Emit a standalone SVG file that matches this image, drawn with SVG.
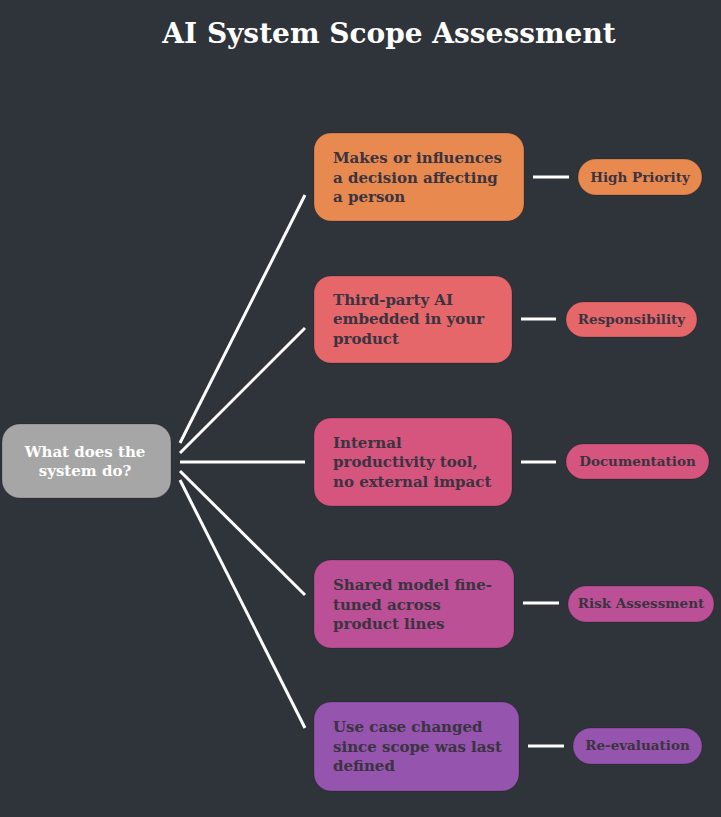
<svg xmlns="http://www.w3.org/2000/svg" width="721" height="817" viewBox="0 0 721 817">
<style>
.bg{fill:#2f333a}
.title{font-family:"DejaVu Serif","Liberation Serif",serif;font-weight:bold;font-size:28px;fill:#ffffff;text-anchor:middle}
.box{stroke:#000;stroke-opacity:0.18;stroke-width:1}
.t{font-family:"DejaVu Serif","Liberation Serif",serif;font-weight:bold;font-size:15px;fill:#3a3340}
.p{font-family:"DejaVu Serif","Liberation Serif",serif;font-weight:bold;font-size:13.5px;fill:#3a3340;text-anchor:middle}
.root{font-family:"DejaVu Serif","Liberation Serif",serif;font-weight:bold;font-size:15px;fill:#ffffff;text-anchor:middle}
.c{stroke:#ffffff;stroke-width:3;fill:none}
</style>
<rect class="bg" x="0" y="0" width="721" height="817"/>
<text class="title" x="389" y="43">AI System Scope Assessment</text>
<g id="connectors">
<line class="c" x1="180" y1="443" x2="305" y2="195"/>
<line class="c" x1="180" y1="453" x2="305" y2="328"/>
<line class="c" x1="180" y1="462" x2="305" y2="462"/>
<line class="c" x1="180" y1="471" x2="305" y2="595"/>
<line class="c" x1="180" y1="480" x2="305" y2="728"/>
<line class="c" x1="533" y1="177" x2="569" y2="177"/>
<line class="c" x1="521" y1="319" x2="556" y2="319"/>
<line class="c" x1="521" y1="462" x2="556" y2="462"/>
<line class="c" x1="523" y1="603" x2="559" y2="603"/>
<line class="c" x1="528" y1="746" x2="564" y2="746"/>
</g>
<g id="root">
<rect class="box" x="2" y="424" width="169" height="74" rx="18" fill="#a6a6a6"/>
<text class="root" x="85" y="457">What does the</text>
<text class="root" x="85" y="476">system do?</text>
</g>
<g id="n1">
<rect class="box" x="314" y="133" width="210" height="88" rx="17" fill="#e8894f"/>
<text class="t" x="333" y="163">Makes or influences</text>
<text class="t" x="333" y="183">a decision affecting</text>
<text class="t" x="333" y="202">a person</text>
</g>
<g id="n2">
<rect class="box" x="314" y="276" width="198" height="87" rx="17" fill="#e5676a"/>
<text class="t" x="333" y="305">Third-party AI</text>
<text class="t" x="333" y="324">embedded in your</text>
<text class="t" x="333" y="344">product</text>
</g>
<g id="n3">
<rect class="box" x="314" y="418" width="198" height="88" rx="17" fill="#d6557e"/>
<text class="t" x="333" y="448">Internal</text>
<text class="t" x="333" y="467">productivity tool,</text>
<text class="t" x="333" y="487">no external impact</text>
</g>
<g id="n4">
<rect class="box" x="314" y="560" width="200" height="88" rx="17" fill="#bb5096"/>
<text class="t" x="333" y="590">Shared model fine-</text>
<text class="t" x="333" y="610">tuned across</text>
<text class="t" x="333" y="629">product lines</text>
</g>
<g id="n5">
<rect class="box" x="314" y="702" width="205" height="89" rx="17" fill="#9554ae"/>
<text class="t" x="333" y="732">Use case changed</text>
<text class="t" x="333" y="752">since scope was last</text>
<text class="t" x="333" y="771">defined</text>
</g>
<g id="p1">
<rect class="box" x="578" y="159" width="124" height="36" rx="18" fill="#e8894f"/>
<text class="p" x="640" y="182">High Priority</text>
</g>
<g id="p2">
<rect class="box" x="566" y="302" width="131" height="35" rx="17.5" fill="#e5676a"/>
<text class="p" x="631.5" y="324">Responsibility</text>
</g>
<g id="p3">
<rect class="box" x="566" y="444" width="143" height="35" rx="17.5" fill="#d6557e"/>
<text class="p" x="637.5" y="466">Documentation</text>
</g>
<g id="p4">
<rect class="box" x="568" y="586" width="146" height="36" rx="18" fill="#bb5096"/>
<text class="p" x="641" y="608">Risk Assessment</text>
</g>
<g id="p5">
<rect class="box" x="573" y="728" width="129" height="36" rx="18" fill="#9554ae"/>
<text class="p" x="637.5" y="750">Re-evaluation</text>
</g>
</svg>
